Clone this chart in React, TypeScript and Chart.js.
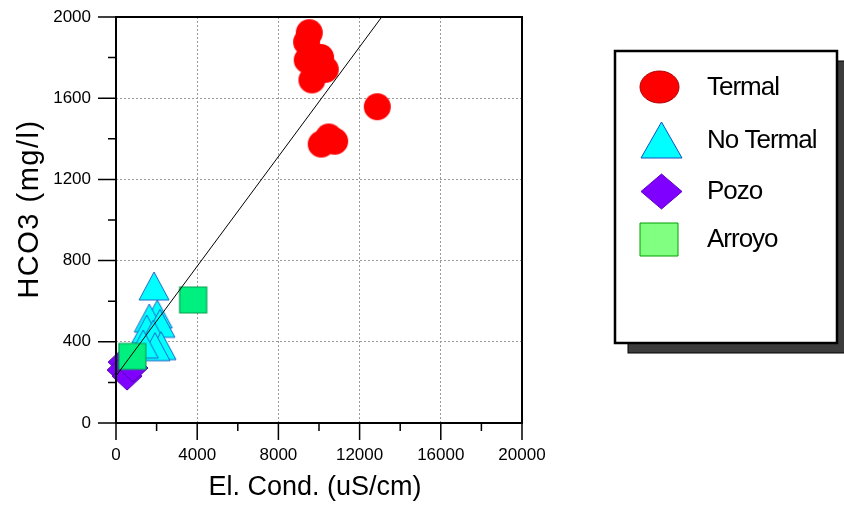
import React, { useEffect, useRef } from "react";
import { Chart, registerables } from "chart.js";

Chart.register(...registerables);

// ---- data ----
const seriesNames = ["Termal", "No Termal", "Pozo", "Arroyo"];

const termalX = [9520, 9390, 10080, 9420, 10310, 9650, 12870, 10110, 10770, 10480];
const termalY = [1923, 1877, 1801, 1788, 1742, 1690, 1558, 1374, 1388, 1409];

const noTermalX = [1872, 2035, 1641, 2167, 1512, 1838, 2217, 1921, 1345];
const noTermalY = [675, 537, 517, 491, 463, 438, 381, 376, 389];

const pozoX = [345, 296, 542, 837];
const pozoY = [300, 261, 231, 271];

const arroyoX = [3800, 805];
const arroyoY = [606, 328];

const fitX = [30, 13090];
const fitY = [236, 2000];

const xMajor = [0, 4000, 8000, 12000, 16000, 20000];
const xMinor = [2000, 6000, 10000, 14000, 18000];
const yMajor = [0, 400, 800, 1200, 1600, 2000];
const yMinor = [200, 600, 1000, 1400, 1800];

const xTitle = "El. Cond. (uS/cm)";
const yTitle = "HCO3 (mg/l)";

const FONT = '"Liberation Sans", Arial, sans-serif';

function pts(xs: number[], ys: number[]) {
  return xs.map((x, i) => ({ x, y: ys[i] }));
}

function makeMarker(shape: string, w: number, h: number, fill: string, stroke: string | null, lw: number) {
  const pad = 2;
  const c = document.createElement("canvas");
  c.width = Math.ceil(w + pad * 2);
  c.height = Math.ceil(h + pad * 2);
  const ctx = c.getContext("2d")!;
  const cx = c.width / 2;
  const cy = c.height / 2;
  ctx.beginPath();
  if (shape === "circle") {
    ctx.ellipse(cx, cy, w / 2, h / 2, 0, 0, Math.PI * 2);
  } else if (shape === "triangle") {
    ctx.moveTo(cx, cy - h / 2);
    ctx.lineTo(cx + w / 2, cy + h / 2);
    ctx.lineTo(cx - w / 2, cy + h / 2);
    ctx.closePath();
  } else if (shape === "diamond") {
    ctx.moveTo(cx, cy - h / 2);
    ctx.lineTo(cx + w / 2, cy);
    ctx.lineTo(cx, cy + h / 2);
    ctx.lineTo(cx - w / 2, cy);
    ctx.closePath();
  } else {
    ctx.rect(cx - w / 2, cy - h / 2, w, h);
  }
  ctx.fillStyle = fill;
  ctx.fill();
  if (stroke) {
    ctx.strokeStyle = stroke;
    ctx.lineWidth = lw;
    ctx.stroke();
  }
  return c;
}

const AREA = { left: 116, top: 17, right: 522, bottom: 423 };

export default function App() {
  const ref = useRef<HTMLCanvasElement | null>(null);

  useEffect(() => {
    const canvas = ref.current;
    if (!canvas) return;

    const mTermal = makeMarker("circle", 27, 27, "#FF0000", null, 0);
    const mNoTermal = makeMarker("triangle", 30, 28, "#00FFFF", "#1E64C8", 1);
    const mPozo = makeMarker("diamond", 30, 28, "#7F00FF", "#5000B0", 1);
    const mArroyo = makeMarker("rect", 27, 26, "#00F07F", "#00A050", 1.2);

    const legendMarkers = [
      makeMarker("circle", 39, 32, "#FF0000", "#B00000", 1),
      makeMarker("triangle", 41, 36, "#00FFFF", "#1050C0", 1),
      makeMarker("diamond", 41, 35, "#7F00FF", "#6000C0", 1),
      makeMarker("rect", 38, 33, "#80FF80", "#00A000", 1),
    ];

    const framePlugin = {
      id: "frameAndLegend",
      afterDraw(chart: any) {
        const { ctx, chartArea } = chart;
        const { left, right, top, bottom } = chartArea;
        const xs = chart.scales.x;
        const ys = chart.scales.y;
        ctx.save();
        // frame
        ctx.strokeStyle = "#000";
        ctx.lineWidth = 2;
        ctx.beginPath();
        ctx.rect(left, top, right - left, bottom - top);
        ctx.stroke();
        // ticks
        ctx.lineWidth = 1.5;
        ctx.beginPath();
        yMajor.forEach((v) => {
          const p = ys.getPixelForValue(v);
          ctx.moveTo(left - 18, p);
          ctx.lineTo(left, p);
        });
        yMinor.forEach((v) => {
          const p = ys.getPixelForValue(v);
          ctx.moveTo(left - 8, p);
          ctx.lineTo(left, p);
        });
        xMajor.forEach((v) => {
          const p = xs.getPixelForValue(v);
          ctx.moveTo(p, bottom);
          ctx.lineTo(p, bottom + 17);
        });
        xMinor.forEach((v) => {
          const p = xs.getPixelForValue(v);
          ctx.moveTo(p, bottom);
          ctx.lineTo(p, bottom + 8);
        });
        ctx.stroke();

        // axis titles
        ctx.fillStyle = "#000";
        ctx.textBaseline = "middle";
        ctx.textAlign = "center";
        ctx.font = `29px ${FONT}`;
        (ctx as any).letterSpacing = "1.5px";
        ctx.save();
        ctx.translate(30, 209);
        ctx.rotate(-Math.PI / 2);
        ctx.fillText(yTitle, 0, 0);
        ctx.restore();
        ctx.font = `27px ${FONT}`;
        (ctx as any).letterSpacing = "0px";
        ctx.fillText(xTitle, 315, 488);

        // legend box with shadow
        const bx = 615, by = 51, bw = 222, bh = 292;
        ctx.fillStyle = "#3c3c3c";
        ctx.fillRect(bx + 13, by + 10, bw, bh);
        ctx.strokeStyle = "#000";
        ctx.lineWidth = 1;
        ctx.strokeRect(bx + 13, by + 10, bw, bh);
        ctx.fillStyle = "#fff";
        ctx.fillRect(bx, by, bw, bh);
        ctx.lineWidth = 2.5;
        ctx.strokeRect(bx, by, bw, bh);

        const rows = [87, 140, 191, 239];
        const mx = [659, 661, 661, 659];
        ctx.fillStyle = "#000";
        ctx.font = `26px ${FONT}`;
        (ctx as any).letterSpacing = "-1px";
        ctx.textBaseline = "middle";
        ctx.textAlign = "left";
        seriesNames.forEach((name, i) => {
          const img = legendMarkers[i];
          ctx.drawImage(img, Math.round(mx[i] - img.width / 2), Math.round(rows[i] - img.height / 2));
          ctx.fillText(name, 707, rows[i] + 1);
        });
        (ctx as any).letterSpacing = "0px";
        ctx.restore();
      },
    };

    const padding = { left: 0, top: 17, right: 322, bottom: 0 };

    const chart = new Chart(canvas, {
      type: "scatter",
      data: {
        datasets: [
          {
            label: "fit",
            data: pts(fitX, fitY),
            showLine: true,
            borderColor: "#000",
            borderWidth: 1,
            pointRadius: 0,
            order: 0,
            clip: false as any,
          },
          {
            label: seriesNames[3],
            data: pts(arroyoX, arroyoY),
            pointStyle: mArroyo as any,
            pointRadius: 10,
            order: 1,
            clip: false as any,
          },
          {
            label: seriesNames[0],
            data: pts(termalX, termalY),
            pointStyle: mTermal as any,
            pointRadius: 10,
            order: 2,
            clip: false as any,
          },
          {
            label: seriesNames[1],
            data: pts(noTermalX, noTermalY),
            pointStyle: mNoTermal as any,
            pointRadius: 10,
            order: 3,
            clip: false as any,
          },
          {
            label: seriesNames[2],
            data: pts(pozoX, pozoY),
            pointStyle: mPozo as any,
            pointRadius: 10,
            order: 4,
            clip: false as any,
          },
        ],
      },
      options: {
        animation: false,
        responsive: false,
        devicePixelRatio: 1,
        events: [],
        layout: { padding },
        plugins: {
          legend: { display: false },
          tooltip: { enabled: false },
          title: { display: false },
        },
        scales: {
          x: {
            type: "linear",
            min: 0,
            max: 20000,
            afterFit: (s: any) => {
              s.height = 85;
            },
            afterBuildTicks: (s: any) => {
              s.ticks = xMajor.map((v) => ({ value: v }));
            },
            grid: {
              drawTicks: false,
              color: (c: any) =>
                c.tick && (c.tick.value === 0 || c.tick.value === 20000) ? "rgba(0,0,0,0)" : "#9a9a9a",
              lineWidth: 1,
            },
            border: { display: false, dash: [2, 2] },
            ticks: {
              autoSkip: false,
              maxRotation: 0,
              padding: 22,
              color: "#000",
              font: { family: FONT, size: 17 },
              callback: (v: any) => String(v),
            },
            title: { display: false },
          },
          y: {
            type: "linear",
            min: 0,
            max: 2000,
            afterFit: (s: any) => {
              s.width = 116;
              s.paddingTop = 0;
              s.paddingBottom = 0;
            },
            afterBuildTicks: (s: any) => {
              s.ticks = yMajor.map((v) => ({ value: v }));
            },
            grid: {
              drawTicks: false,
              color: (c: any) =>
                c.tick && (c.tick.value === 0 || c.tick.value === 2000) ? "rgba(0,0,0,0)" : "#9a9a9a",
              lineWidth: 1,
            },
            border: { display: false, dash: [2, 2] },
            ticks: {
              autoSkip: false,
              padding: 25,
              color: "#000",
              font: { family: FONT, size: 17 },
              callback: (v: any) => String(v),
            },
            title: { display: false },
          },
        },
      },
      plugins: [framePlugin],
    } as any);

    // correct chart area to the target box if the layout drifted
    for (let k = 0; k < 3; k++) {
      const a = chart.chartArea;
      const dt = a.top - AREA.top;
      const dl = a.left - AREA.left;
      const dr = a.right - AREA.right;
      const db = a.bottom - AREA.bottom;
      if (Math.abs(dt) < 0.5 && Math.abs(dl) < 0.5 && Math.abs(dr) < 0.5 && Math.abs(db) < 0.5) break;
      padding.top -= dt;
      padding.left -= dl;
      padding.right += dr;
      padding.bottom += db;
      (chart.options as any).layout.padding = { ...padding };
      chart.update();
    }

    return () => {
      chart.destroy();
    };
  }, []);

  return (
    <div style={{ position: "absolute", left: 0, top: 0, width: 844, height: 508, background: "#fff" }}>
      <canvas ref={ref} width={844} height={508} style={{ display: "block" }} />
    </div>
  );
}
